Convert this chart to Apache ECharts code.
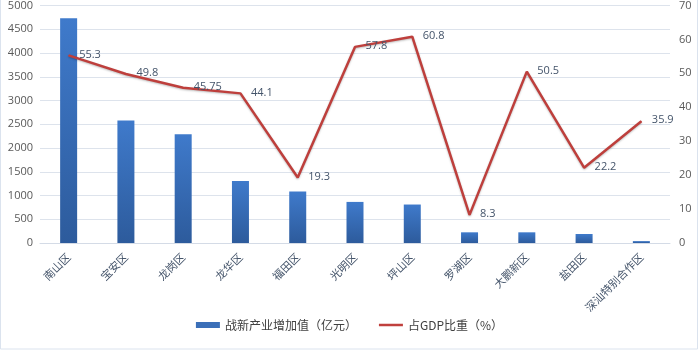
<!DOCTYPE html>
<html>
<head>
<meta charset="utf-8">
<script src="https://cdn.jsdelivr.net/npm/echarts@6/dist/echarts.min.js"></script>
<style>
  html, body { margin: 0; padding: 0; background: #fff; }
  #chart { width: 699px; height: 350px; }
</style>
</head>
<body>
<div id="chart"></div>
<script>
// Shenzhen districts: value added of strategic emerging industries and its share of GDP
var districts = ['南山区', '宝安区', '龙岗区', '龙华区', '福田区', '光明区', '坪山区', '罗湖区', '大鹏新区', '盐田区', '深汕特别合作区'];
var addedValue = [4730, 2580, 2290, 1305, 1085, 865, 810, 225, 225, 190, 40];
var gdpShare = [55.3, 49.8, 45.75, 44.1, 19.3, 57.8, 60.8, 8.3, 50.5, 22.2, 35.9];
var seriesNames = ['战新产业增加值（亿元）', '占GDP比重（%）'];

var axisText = { color: '#595959', fontSize: 11, fontFamily: 'Open Sans, Noto Sans, sans-serif', verticalAlign: 'middle' };
var gridLine = { lineStyle: { color: '#dde3ec', width: 1 } };

var chart = echarts.init(document.getElementById('chart'), null, { renderer: 'canvas' });
chart.setOption({
  backgroundColor: '#ffffff',
  animation: false,
  graphic: [{
    type: 'rect',
    shape: { x: 0.5, y: -2, width: 697, height: 351 },
    style: { fill: 'none', stroke: '#dbe3ee', lineWidth: 1 },
    silent: true
  }],
  grid: { left: 40, right: 29, top: -1, bottom: 107 },
  legend: {
    bottom: 14,
    left: 'center',
    itemGap: 22,
    textStyle: { color: '#404040', fontSize: 12, fontFamily: 'Noto Sans CJK SC, sans-serif' },
    data: [
      { name: seriesNames[0], icon: 'rect', itemStyle: { color: '#3b6fb8' } },
      { name: seriesNames[1], icon: 'path://M0,0 L24,0 L24,2.5 L0,2.5 Z', itemStyle: { color: '#c0403d' } }
    ],
    itemWidth: 24,
    itemHeight: 6
  },
  xAxis: {
    type: 'category',
    data: districts,
    axisTick: { show: false },
    axisLine: { lineStyle: { color: '#d4dbe6' } },
    axisLabel: {
      rotate: 45,
      interval: 0,
      margin: 12,
      color: '#44546a',
      fontSize: 11,
      fontFamily: 'Noto Sans CJK SC, sans-serif'
    }
  },
  yAxis: [{
    type: 'value',
    min: 0, max: 5000, interval: 500,
    axisLine: { show: false },
    axisTick: { show: false },
    splitLine: gridLine,
    axisLabel: Object.assign({ margin: 7, formatter: function (v) { return String(v); } }, axisText)
  }, {
    type: 'value',
    min: 0, max: 70, interval: 10,
    position: 'right',
    axisLine: { show: false },
    axisTick: { show: false },
    splitLine: { show: false },
    axisLabel: Object.assign({ margin: 9, formatter: function (v) { return String(v); } }, axisText)
  }],
  series: [{
    name: seriesNames[0],
    type: 'bar',
    data: addedValue,
    barWidth: 17,
    itemStyle: {
      color: new echarts.graphic.LinearGradient(0, 0, 0, 1, [
        { offset: 0, color: '#3f7acb' },
        { offset: 1, color: '#2d5b9c' }
      ])
    }
  }, {
    name: seriesNames[1],
    type: 'line',
    yAxisIndex: 1,
    data: gdpShare,
    symbol: 'circle',
    symbolSize: 1,
    itemStyle: { color: '#c0403d' },
    lineStyle: {
      color: '#be3f3c',
      width: 2.5,
      shadowColor: 'rgba(0,0,0,0.25)',
      shadowBlur: 2,
      shadowOffsetY: 1
    },
    label: {
      show: true,
      position: 'right',
      distance: 10,
      offset: [0, -1],
      color: '#44546a',
      fontSize: 11,
      fontFamily: 'Open Sans, Noto Sans, sans-serif'
    },
    z: 3
  }]
});
</script>
</body>
</html>
